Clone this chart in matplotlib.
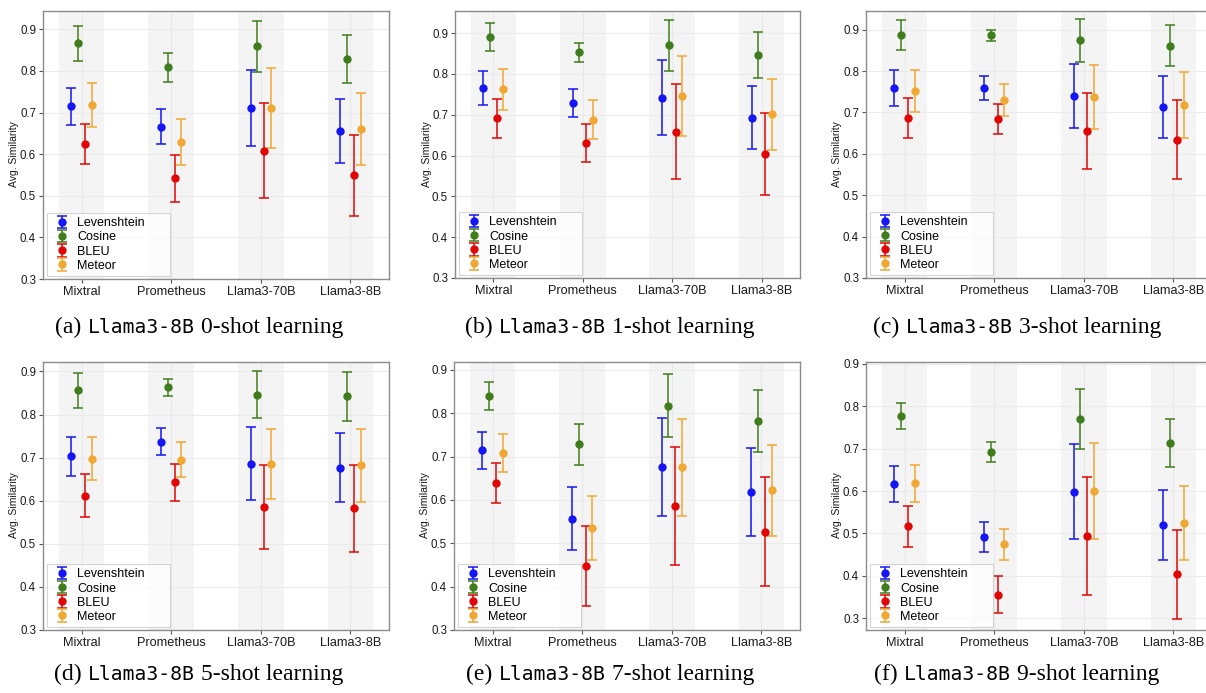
import matplotlib
matplotlib.use("Agg")
import matplotlib.pyplot as plt
import numpy as np
from matplotlib.offsetbox import TextArea, HPacker, AnnotationBbox

models = ["Mixtral", "Prometheus", "Llama3-70B", "Llama3-8B"]
metrics = ["Levenshtein", "Cosine", "BLEU", "Meteor"]
shots = [0, 1, 3, 5, 7, 9]
panel_letters = ["a", "b", "c", "d", "e", "f"]
yticks = [0.3, 0.4, 0.5, 0.6, 0.7, 0.8, 0.9]

# rows = panels (0,1,3,5,7,9-shot); columns = models
lev_mean = [[0.715, 0.666, 0.711, 0.656],
            [0.765, 0.729, 0.742, 0.693],
            [0.759, 0.759, 0.740, 0.712],
            [0.703, 0.737, 0.686, 0.677],
            [0.714, 0.557, 0.675, 0.618],
            [0.617, 0.491, 0.598, 0.520]]
lev_err = [[0.045, 0.042, 0.092, 0.077],
           [0.041, 0.035, 0.092, 0.078],
           [0.043, 0.028, 0.077, 0.075],
           [0.045, 0.031, 0.084, 0.080],
           [0.042, 0.072, 0.113, 0.102],
           [0.042, 0.035, 0.112, 0.083]]
cos_mean = [[0.866, 0.809, 0.859, 0.828],
            [0.890, 0.853, 0.870, 0.846],
            [0.887, 0.886, 0.874, 0.861],
            [0.856, 0.863, 0.846, 0.842],
            [0.840, 0.728, 0.817, 0.782],
            [0.776, 0.692, 0.770, 0.713]]
cos_err = [[0.043, 0.035, 0.062, 0.058],
           [0.035, 0.023, 0.062, 0.056],
           [0.037, 0.014, 0.051, 0.050],
           [0.041, 0.020, 0.054, 0.056],
           [0.033, 0.047, 0.073, 0.072],
           [0.031, 0.024, 0.071, 0.057]]
bleu_mean = [[0.624, 0.542, 0.608, 0.549],
             [0.691, 0.630, 0.658, 0.604],
             [0.687, 0.685, 0.655, 0.634],
             [0.612, 0.643, 0.586, 0.583],
             [0.638, 0.448, 0.585, 0.527],
             [0.517, 0.356, 0.494, 0.404]]
bleu_err = [[0.048, 0.057, 0.114, 0.098],
            [0.048, 0.047, 0.116, 0.101],
            [0.049, 0.036, 0.092, 0.096],
            [0.050, 0.043, 0.098, 0.101],
            [0.046, 0.092, 0.136, 0.126],
            [0.048, 0.044, 0.138, 0.105]]
met_mean = [[0.718, 0.629, 0.711, 0.661],
            [0.762, 0.688, 0.745, 0.701],
            [0.752, 0.730, 0.738, 0.718],
            [0.697, 0.695, 0.685, 0.682],
            [0.708, 0.536, 0.675, 0.622],
            [0.618, 0.474, 0.600, 0.525]]
met_err = [[0.052, 0.056, 0.097, 0.086],
           [0.050, 0.048, 0.098, 0.087],
           [0.050, 0.038, 0.077, 0.079],
           [0.050, 0.041, 0.082, 0.085],
           [0.044, 0.074, 0.112, 0.105],
           [0.043, 0.036, 0.114, 0.087]]

ylims = [(0.3, 0.944), (0.3, 0.954), (0.3, 0.945),
         (0.3, 0.922), (0.3, 0.918), (0.2725, 0.904)]

colors = ["#1515f5", "#3f7d1c", "#e00606", "#f0a832"]
means_all = [lev_mean, cos_mean, bleu_mean, met_mean]
errs_all = [lev_err, cos_err, bleu_err, met_err]

W, H = 1206, 693
fig = plt.figure(figsize=(W / 100, H / 100), dpi=100)
plt.rcParams['font.family'] = ['Liberation Sans', 'DejaVu Sans']

# axes boxes in pixel coords (left, top, right, bottom), origin top-left
boxes = [(43, 11, 389, 279), (455, 11, 800, 278), (866, 11, 1212, 278),
         (43, 362, 389, 630), (454, 362, 800, 630), (866, 362, 1212, 630)]
caption_centers = [(199, 327), (610, 327), (1017, 327),
                   (199, 674), (610, 674), (1017, 674)]

offsets = [-0.1125, -0.0375, 0.0375, 0.1125]
x = np.arange(1, len(models) + 1)

for p in range(6):
    l, t, r, b = boxes[p]
    aw, ah = r - l, b - t
    ax = fig.add_axes([l / W, (H - b) / H, aw / W, ah / H])
    ax.set_xlim(0.57, 4.43)
    ax.set_ylim(*ylims[p])
    for xi in x:
        ax.axvspan(xi - 0.255, xi + 0.255, color="#f4f4f4", lw=0, zorder=0)
    for yv in yticks:
        ax.axhline(yv, color="#ebebeb", lw=0.8, zorder=0.5)
    for xi in x:
        ax.axvline(xi, color="#e8e8e8", lw=0.8, zorder=0.5)
    for m in range(4):
        ax.errorbar(x + offsets[m], means_all[m][p], yerr=errs_all[m][p],
                    fmt="o", color=colors[m], ms=5.0, elinewidth=1.1,
                    capsize=3.6, capthick=1.1, label=metrics[m], zorder=3)
    ax.set_xticks(x)
    ax.set_xticklabels(models, fontsize=9.2, color="#1a1a1a")
    ax.set_yticks(yticks)
    ax.set_yticklabels([f"{v:.1f}" for v in yticks], fontsize=8.3, color="#1a1a1a")
    ax.tick_params(axis="both", length=3, width=0.8, color="#555555", pad=2)
    for s in ax.spines.values():
        s.set_color("#8c8c8c")
        s.set_linewidth(1.0)
    ax.set_ylabel("Avg. Similarity", fontsize=7.5, color="#1a1a1a")
    ax.yaxis.set_label_coords(-0.068, 0.466)
    leg = ax.legend(loc="lower left",
                    bbox_to_anchor=(4.3 / aw, 3.0 / ah, 122.7 / aw, 0.3),
                    mode="expand", borderaxespad=0,
                    fontsize=9, frameon=True, fancybox=False,
                    borderpad=0.34, handlelength=1.67,
                    handletextpad=0.39, labelspacing=0.17)
    leg.get_frame().set_edgecolor("#cccccc")
    leg.get_frame().set_linewidth(0.8)

    # caption
    t1 = TextArea(f"({panel_letters[p]})", textprops=dict(family="Liberation Serif", size=17, color="black"))
    t2 = TextArea("Llama3-8B", textprops=dict(family="DejaVu Sans Mono", size=14.2, color="black"))
    t3 = TextArea(f"{shots[p]}-shot learning", textprops=dict(family="Liberation Serif", size=17, color="black"))
    pack = HPacker(children=[t1, t2, t3], align="baseline", pad=0, sep=4.5)
    cx, cy = caption_centers[p]
    ab = AnnotationBbox(pack, (cx, H - cy), xycoords="figure pixels",
                        box_alignment=(0.5, 0.5), frameon=False, pad=0)
    fig.add_artist(ab)

fig.savefig("out.png", dpi=100)
